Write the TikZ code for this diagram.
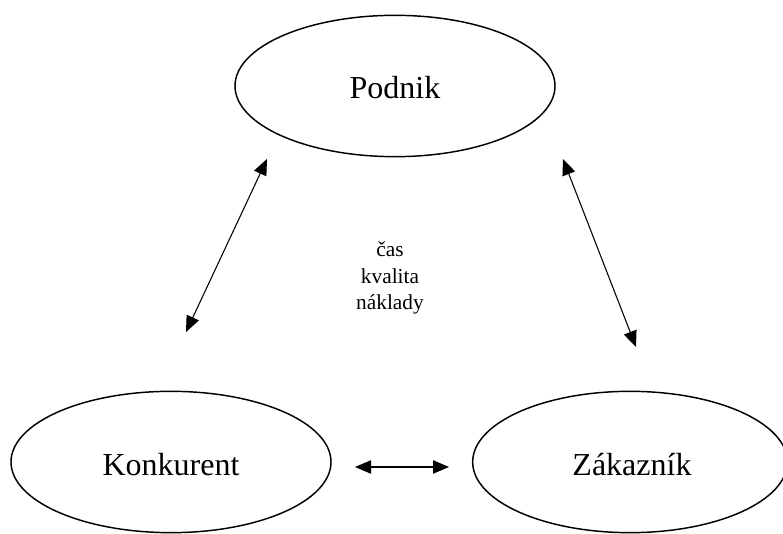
\documentclass[tikz,border=0pt]{standalone}
\usepackage{fontspec}
\setmainfont{Liberation Serif}
\usetikzlibrary{shapes.geometric,arrows.meta}
\tikzset{
  entity/.style={draw=black, line width=1.1pt, ellipse, minimum width=240pt, minimum height=106pt, inner sep=0pt},
  bigtext/.style={font=\fontsize{24}{28}\selectfont, inner sep=0pt},
  link/.style={line width=0.8pt, {Triangle[length=12pt,width=10pt]}-{Triangle[length=12pt,width=10pt]}}
}
\begin{document}
\begin{tikzpicture}[x=0.75pt, y=-0.75pt]
\useasboundingbox (0,0) rectangle (783,534);
\node[entity] (podnik) at (395,86) {};
\node[entity] (konkurent) at (171,462) {};
\node[entity, minimum width=236pt] (zakaznik) at (630,462) {};
\node[bigtext, anchor=base] (tpodnik) at (395,99) {Podnik};
\node[bigtext, anchor=base] (tkonkurent) at (171,476) {Konkurent};
\node[bigtext, anchor=base] (tzakaznik) at (632,476) {Zákazník};
\node[align=center, font=\fontsize{16}{20}\selectfont, inner sep=0pt] (factors) at (390,278) {čas\\kvalita\\náklady};
\coordinate (l1) at (267,159);
\coordinate (l2) at (186,332);
\coordinate (r1) at (563,159);
\coordinate (r2) at (636,347);
\coordinate (b1) at (355,467);
\coordinate (b2) at (449,467);
\draw[link] (l1) -- (l2);
\draw[link] (r1) -- (r2);
\draw[link] (b1) -- (b2);
\end{tikzpicture}
\end{document}
